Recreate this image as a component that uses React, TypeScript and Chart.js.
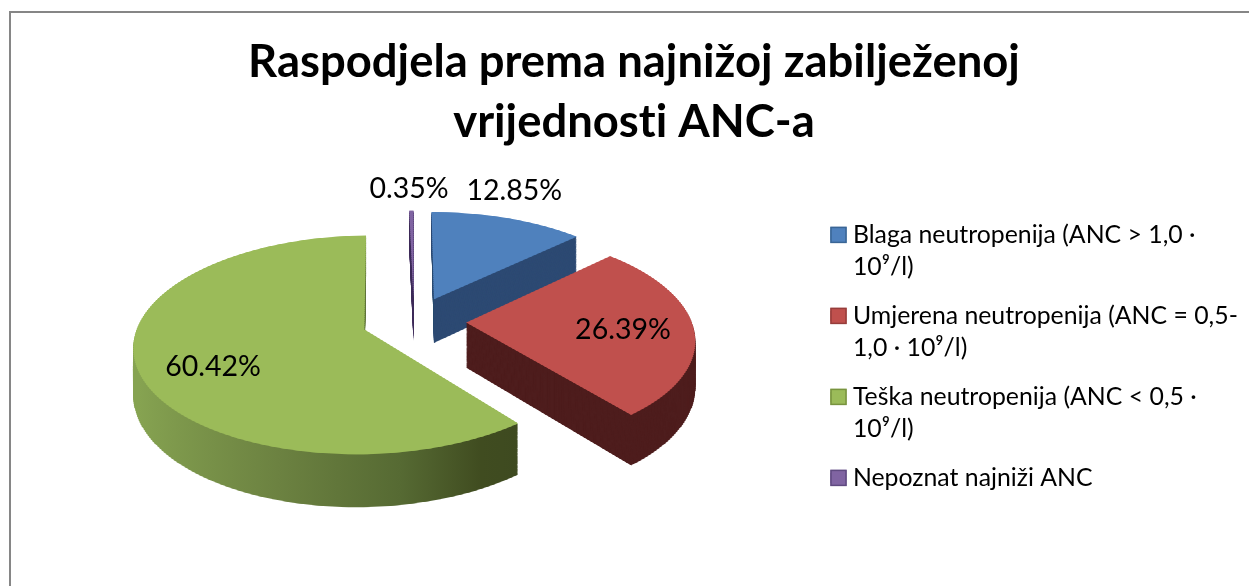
import React, { useEffect, useRef } from "react";
import { Chart, registerables } from "chart.js";

Chart.register(...registerables);

const titleLines = ["Raspodjela prema najnižoj zabilježenoj", "vrijednosti ANC-a"];
const categories = [
  ["Blaga neutropenija (ANC > 1,0 ·", "10⁹/l)"],
  ["Umjerena neutropenija (ANC = 0,5-", "1,0 · 10⁹/l)"],
  ["Teška neutropenija (ANC < 0,5 ·", "10⁹/l)"],
  ["Nepoznat najniži ANC"],
];
const values = [12.85, 26.39, 60.42, 0.35];
const topColors = ["#4f81bd", "#c0504d", "#9bbb59", "#8064a2"];
const wallColors = ["#2d4a73", "#4e1d1d", "#6f8a43", "#402f5c"];
const legendBorders = ["#3a6595", "#963d3b", "#78933f", "#5f4a80"];

// layout of the simulated 3D projection
const X0 = 414, Y0 = 321, A = 0.452, B = 0.0006, S0 = 0.97, DEPTH = 45, BAND = 2;
const EXPLODE = 54;
const labelNudges = [[58.8, -85], [96.2, 5.5], [-92.6, 27.5], [-3.8, -83]];
const drawOrder = [3, 0, 2, 1];
const FONT = "Lato, Carlito, Calibri, sans-serif";

function paintProjected(chart: any, el: any, shiftT: number) {
  const ctx = chart.ctx;
  const half = (el.startAngle + el.endAngle) / 2;
  for (let sy = 190; sy < 510; sy += BAND) {
    const w = sy + BAND / 2 - Y0;
    const v = w / (A + B * w);
    const q = 1 / (1 - B * v);
    const slope = A * q * q;
    const sx = S0 * q;
    const drop = shiftT * DEPTH * q;
    ctx.save();
    ctx.beginPath();
    ctx.rect(0, Math.round(sy + drop), chart.width, BAND + 1);
    ctx.clip();
    ctx.setTransform(sx, 0, 0, slope, X0 - sx * el.x, sy + BAND / 2 + drop - slope * (el.y + v));
    ctx.translate(Math.cos(half) * EXPLODE, Math.sin(half) * EXPLODE);
    el.draw(ctx);
    ctx.restore();
  }
}

const pie3d = {
  id: "pie3d",
  beforeDraw(chart: any) {
    // keeps "ti" from being drawn as a ligature
    chart.ctx.letterSpacing = "0.01px";
  },
  beforeDatasetsDraw(chart: any) {
    const meta = chart.getDatasetMeta(0);
    const ctx = chart.ctx;
    for (const i of drawOrder) {
      const el = meta.data[i];
      const base = el.options;
      let wall: any = wallColors[i];
      if (i === 2) {
        const toLocal = (x: number) => (x - X0) / 1.05 + el.x + 51;
        const g = ctx.createLinearGradient(toLocal(135), 0, toLocal(515), 0);
        g.addColorStop(0, "#86a351");
        g.addColorStop(0.4, "#6c8241");
        g.addColorStop(0.7, "#566a33");
        g.addColorStop(0.9, "#404c20");
        g.addColorStop(1, "#3e4a20");
        wall = g;
      }
      el.options = { ...base, backgroundColor: wall, borderWidth: 0 };
      const layers = 48;
      for (let k = layers; k >= 1; k--) paintProjected(chart, el, k / layers);
      el.options = { ...base, backgroundColor: topColors[i], borderWidth: 0 };
      paintProjected(chart, el, 0);
      el.options = base;
    }
    return false;
  },
  afterDraw(chart: any) {
    const meta = chart.getDatasetMeta(0);
    const ctx = chart.ctx;
    ctx.save();
    ctx.font = `28.5px ${FONT}`;
    ctx.fillStyle = "#000";
    ctx.textAlign = "center";
    ctx.textBaseline = "middle";
    meta.data.forEach((el: any, i: number) => {
      const c = el.getCenterPoint();
      const u = c.x - el.x;
      const v = c.y - el.y;
      const q = 1 / (1 - B * v);
      const x = X0 + S0 * q * u + labelNudges[i][0];
      const y = Y0 + A * q * v + labelNudges[i][1];
      ctx.fillText(values[i].toFixed(2) + "%", x, y);
    });
    ctx.restore();
  },
};

const legendPlace = {
  id: "legendPlace",
  afterLayout(chart: any) {
    chart.legend.left = 813.5;
    chart.legend.top = 205.5;
  },
  afterDraw(chart: any) {
    const ctx = chart.ctx;
    const lg = chart.legend;
    const pad = 17;
    let y = lg.top + pad;
    lg.legendItems.forEach((item: any, i: number) => {
      const cy = y + 12.4;
      ctx.save();
      ctx.fillStyle = topColors[i];
      ctx.strokeStyle = legendBorders[i];
      ctx.lineWidth = 1.5;
      ctx.fillRect(lg.left + pad, cy - 8, 16, 16);
      ctx.strokeRect(lg.left + pad + 0.5, cy - 7.5, 15, 15);
      ctx.restore();
      y += item.text.length * 32 + pad;
    });
  },
};

export default function App() {
  const ref = useRef<HTMLCanvasElement>(null);
  useEffect(() => {
    const chart = new Chart(ref.current as any, {
      type: "pie",
      data: {
        labels: categories as any,
        datasets: [{ data: values, backgroundColor: topColors, borderWidth: 0 }],
      },
      options: {
        responsive: false,
        animation: false,
        devicePixelRatio: 1,
        radius: 232,
        layout: { padding: { left: 19 } },
        plugins: {
          tooltip: { enabled: false },
          title: {
            display: true,
            text: titleLines,
            color: "#000",
            font: { family: FONT, size: 45.4, weight: "bold", lineHeight: 60 / 45.4 },
            padding: { top: 32, bottom: 10 },
          },
          legend: {
            position: "right",
            align: "start",
            labels: {
              boxWidth: 10,
              boxHeight: 10,
              padding: 17,
              color: "#000",
              font: { family: FONT, size: 24.8, lineHeight: 32 / 24.8 },
              generateLabels: () =>
                categories.map((text, i) => ({
                  text,
                  fillStyle: topColors[i],
                  strokeStyle: legendBorders[i],
                  lineWidth: 0,
                  hidden: false,
                  index: i,
                  datasetIndex: 0,
                })),
            },
          },
        },
      } as any,
      plugins: [pie3d, legendPlace],
    });
    return () => chart.destroy();
  }, []);
  return (
    <div style={{ position: "absolute", left: 0, top: 0, width: 1249, height: 586, overflow: "hidden", background: "#fff" }}>
      <canvas ref={ref} width={1249} height={586} style={{ position: "absolute", left: 0, top: 0 }} />
      <div style={{ position: "absolute", left: 9, top: 11, right: 0, bottom: 0, borderLeft: "2px solid #868686", borderTop: "2px solid #868686", pointerEvents: "none" }} />
    </div>
  );
}
